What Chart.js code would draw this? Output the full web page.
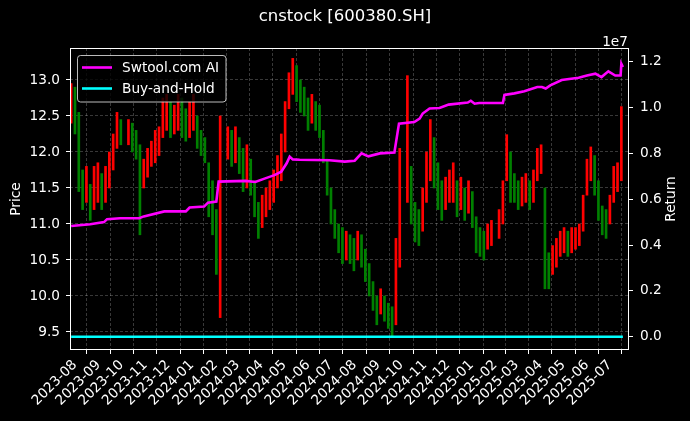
<!DOCTYPE html>
<html lang="en">
<head>
<meta charset="UTF-8">
<title>cnstock [600380.SH]</title>
<script src="https://cdn.jsdelivr.net/npm/chart.js@4.4.1/dist/chart.umd.min.js"></script>
<style>
  html, body { margin: 0; padding: 0; background: #000; }
  #chart { display: block; }
</style>
</head>
<body>
<canvas id="chart" width="690" height="421"></canvas>
<script>
  // tick labels on the date axis (one per month)
  const monthTicks = [
    '2023-08', '2023-09', '2023-10', '2023-11', '2023-12',
    '2024-01', '2024-02', '2024-03', '2024-04', '2024-05', '2024-06',
    '2024-07', '2024-08', '2024-09', '2024-10', '2024-11', '2024-12',
    '2025-01', '2025-02', '2025-03', '2025-04', '2025-05', '2025-06', '2025-07'
  ];
  const priceTicks = [9.5, 10.0, 10.5, 11.0, 11.5, 12.0, 12.5, 13.0];
  const returnTicks = [0.0, 0.2, 0.4, 0.6, 0.8, 1.0, 1.2];

  // price bars: one every 5 calendar days from 2023-07-27, null = market closed
  const barStart = '2023-07-27';
  const barStepDays = 5;
  const barLow = [
    12.40, 12.25, 11.45, 11.20, 11.30, 11.05, 11.20, 11.30, 11.20, 11.30,
    11.50, 11.75, 12.05, 12.10, null, 12.10, 12.00, 11.90, 10.85, 11.50,
    11.65, 11.80, 11.85, 11.95, 12.20, 12.30, 12.20, 12.25, 12.30, 12.20,
    12.15, 12.20, 12.30, 12.05, 11.95, 11.85, 11.10, 10.85, 10.30, 9.70,
    null, 11.90, 11.80, 11.85, 11.70, 11.45, 11.50, 11.40, 11.10, 10.80,
    10.95, 11.10, 11.20, 11.30, 11.50, 11.60, 12.00, 12.60, 12.80, 12.70,
    12.55, 12.50, 12.30, 12.40, 12.30, 12.20, 11.85, 11.40, 11.00, 10.80,
    10.60, 10.45, 10.50, 10.45, 10.35, 10.50, 10.40, 10.20, 10.00, 9.80,
    9.60, 9.75, 9.65, 9.55, 9.43, 9.60, 10.40, null, 11.30, 11.00,
    10.75, 10.70, 10.90, 11.30, 11.60, 11.50, 11.20, 11.05, 11.20, 11.30,
    11.30, 11.10, 11.20, 11.05, 11.15, 10.95, 10.60, 10.55, 10.50, 10.65,
    10.70, null, 10.80, 11.00, 11.60, 11.30, 11.30, 11.20, 11.25, 11.30,
    11.20, 11.30, 11.60, 11.70, 10.10, 10.10, 10.30, 10.40, 10.55, 10.60,
    10.55, 10.60, 10.65, 10.70, 10.90, 11.40, 11.60, 11.40, 11.05, 10.85,
    10.80, 11.00, 11.30, 11.45, 11.60
  ];
  const barHigh = [
    12.95, 12.90, 12.55, 11.75, 11.80, 11.55, 11.80, 11.85, 11.70, 11.80,
    12.00, 12.25, 12.55, 12.45, null, 12.45, 12.40, 12.30, 12.10, 11.90,
    12.05, 12.15, 12.30, 12.35, 12.75, 12.80, 12.70, 12.65, 12.80, 12.75,
    12.60, 12.70, 12.80, 12.50, 12.30, 12.20, 11.85, 11.60, 11.20, 12.50,
    null, 12.35, 12.30, 12.35, 12.20, 12.05, 12.10, 11.90, 11.60, 11.30,
    11.40, 11.50, 11.60, 11.75, 11.95, 12.25, 12.70, 13.10, 13.30, 13.20,
    13.00, 12.90, 12.75, 12.80, 12.70, 12.65, 12.30, 11.90, 11.50, 11.20,
    11.00, 10.95, 10.90, 10.85, 10.80, 10.90, 10.85, 10.65, 10.45, 10.20,
    10.00, 10.10, 10.00, 9.90, 9.85, 10.80, 12.05, null, 13.06, 11.80,
    11.30, 11.20, 11.50, 12.00, 12.45, 12.20, 11.85, 11.60, 11.65, 11.75,
    11.85, 11.60, 11.65, 11.50, 11.60, 11.45, 11.10, 10.95, 10.90, 11.00,
    11.05, null, 11.20, 11.60, 12.24, 12.00, 11.70, 11.60, 11.65, 11.70,
    11.60, 11.75, 12.05, 12.10, 11.50, 10.60, 10.70, 10.80, 10.90, 10.95,
    10.90, 10.95, 10.95, 11.00, 11.40, 11.90, 12.07, 11.95, 11.60, 11.25,
    11.20, 11.40, 11.80, 11.85, 12.63
  ];

  // Swtool.com AI equity curve, right axis in units of 1e7
  const aiDates = [
    '2023-07-27', '2023-08-21', '2023-09-08', '2023-09-12', '2023-09-29',
    '2023-10-24', '2023-10-30', '2023-11-26', '2023-12-24', '2023-12-29',
    '2024-01-17', '2024-01-22', '2024-02-02', '2024-02-05', '2024-03-11',
    '2024-03-24', '2024-04-05', '2024-04-18', '2024-04-27', '2024-05-04',
    '2024-05-08', '2024-05-12', '2024-05-21', '2024-06-29', '2024-07-19',
    '2024-08-01', '2024-08-10', '2024-08-19', '2024-09-03', '2024-09-22',
    '2024-09-28', '2024-10-18', '2024-10-25', '2024-10-29', '2024-11-07',
    '2024-11-20', '2024-12-02', '2024-12-27', '2024-12-31', '2025-01-05',
    '2025-01-11', '2025-02-11', '2025-02-13', '2025-02-26', '2025-03-11',
    '2025-03-28', '2025-04-03', '2025-04-08', '2025-04-14', '2025-04-29',
    '2025-05-21', '2025-06-01', '2025-06-12', '2025-06-20', '2025-06-29',
    '2025-07-08', '2025-07-15', '2025-07-16', '2025-07-18'
  ];
  const aiReturn = [
    0.483, 0.491, 0.500, 0.513, 0.517,
    0.517, 0.525, 0.547, 0.547, 0.564,
    0.568, 0.585, 0.590, 0.677, 0.680,
    0.675, 0.690, 0.705, 0.720, 0.757,
    0.786, 0.774, 0.772, 0.770, 0.764,
    0.768, 0.800, 0.787, 0.800, 0.804,
    0.930, 0.937, 0.952, 0.974, 0.996,
    0.998, 1.013, 1.022, 1.030, 1.017,
    1.020, 1.020, 1.055, 1.062, 1.071,
    1.090, 1.090, 1.083, 1.097, 1.120,
    1.130, 1.140, 1.148, 1.133, 1.158,
    1.140, 1.140, 1.191, 1.177
  ];

  // Buy-and-Hold, flat at this scale
  const bhDates = ['2023-07-27', '2024-07-27', '2025-07-18'];
  const bhReturn = [0.0, 0.0, 0.0];

  const DAY0 = Date.UTC(2023, 7, 1);
  function dayOf(s) {
    const p = s.split('-').map(Number);
    return (Date.UTC(p[0], p[1] - 1, p[2] || 1) - DAY0) / 86400000;
  }

  const monthDays = monthTicks.map(m => dayOf(m));
  const firstBar = dayOf(barStart);

  // bars: red when the price moved up, green when it moved down
  const barPts = [];
  const barColors = [];
  let prevMid = null;
  barLow.forEach((lo, i) => {
    const x = firstBar + i * barStepDays;
    if (lo === null) {
      barPts.push({x: x, y: null});
      barColors.push('red');
      return;
    }
    const mid = (lo + barHigh[i]) / 2;
    barPts.push({x: x, y: [lo, barHigh[i]]});
    barColors.push(prevMid === null || mid >= prevMid ? '#ff0000' : '#008000');
    prevMid = mid;
  });

  const aiPts = aiDates.map((d, i) => ({x: dayOf(d), y: aiReturn[i]}));
  const bhPts = bhDates.map((d, i) => ({x: dayOf(d), y: bhReturn[i]}));

  const tickFont = {family: 'DejaVu Sans', size: 13.7};
  const gridColor = 'rgba(255,255,255,0.28)';

  // spines, legend, right axis label and the 1e7 offset label
  const overlay = {
    id: 'overlay',
    afterDraw(chart) {
      const ctx = chart.ctx;
      const a = chart.chartArea;
      ctx.save();
      ctx.strokeStyle = '#fff';
      ctx.lineWidth = 1;
      ctx.strokeRect(Math.round(a.left) + 0.5, Math.round(a.top) + 0.5,
                     Math.round(a.width) - 1, Math.round(a.height) - 1);

      // legend box
      ctx.beginPath();
      ctx.roundRect(77.5, 55.5, 148.5, 46.5, 3);
      ctx.fillStyle = 'rgba(0,0,0,0.8)';
      ctx.fill();
      ctx.strokeStyle = 'rgba(220,220,220,0.85)';
      ctx.stroke();

      ctx.font = '13.7px "DejaVu Sans"';
      const items = chart.data.datasets.filter(ds => ds.type === 'line');
      items.forEach((ds, k) => {
        const y = 67.5 + k * 21;
        ctx.beginPath();
        ctx.moveTo(82, y);
        ctx.lineTo(112, y);
        ctx.strokeStyle = ds.borderColor;
        ctx.lineWidth = 2.6;
        ctx.stroke();
        ctx.fillStyle = '#fff';
        ctx.textAlign = 'left';
        ctx.textBaseline = 'middle';
        ctx.fillText(ds.label, 122, y + 0.5);
      });

      ctx.fillStyle = '#fff';
      ctx.textAlign = 'right';
      ctx.textBaseline = 'alphabetic';
      ctx.fillText('1e7', 628, 45.5);

      // right axis label reads bottom to top, like the left one
      ctx.translate(671, (a.top + a.bottom) / 2);
      ctx.rotate(-Math.PI / 2);
      ctx.textAlign = 'center';
      ctx.textBaseline = 'middle';
      ctx.fillText('Return', 0, 0);
      ctx.restore();
    }
  };

  new Chart(document.getElementById('chart'), {
    type: 'bar',
    data: {
      datasets: [
        {
          type: 'line', label: 'Swtool.com AI', data: aiPts, yAxisID: 'y1',
          borderColor: '#ff00ff', borderWidth: 2.6, pointRadius: 0, tension: 0
        },
        {
          type: 'line', label: 'Buy-and-Hold', data: bhPts, yAxisID: 'y1',
          borderColor: '#00ffff', borderWidth: 2.6, pointRadius: 0, tension: 0
        },
        {
          type: 'bar', label: 'Price', data: barPts, yAxisID: 'y',
          backgroundColor: barColors, borderWidth: 0, barThickness: 2
        }
      ]
    },
    options: {
      responsive: false,
      animation: false,
      devicePixelRatio: 1,
      layout: {padding: 0},
      plugins: {
        legend: {display: false},
        tooltip: {enabled: false},
        title: {
          display: true,
          text: 'cnstock [600380.SH]',
          color: '#fff',
          font: {family: 'DejaVu Sans', size: 16.5, weight: 'normal'},
          padding: {top: 6.6, bottom: 21.6}
        }
      },
      scales: {
        x: {
          type: 'linear',
          min: -6.5,
          max: 725,
          offset: false,
          afterBuildTicks: s => { s.ticks = monthDays.map(v => ({value: v})); },
          afterFit: s => { s.height = 71; },
          ticks: {
            autoSkip: false, minRotation: 45, maxRotation: 45, padding: 3,
            color: '#fff', font: tickFont,
            callback: (v, i) => monthTicks[i]
          },
          grid: {color: gridColor, lineWidth: 0.8, tickLength: 4, tickColor: '#fff', tickWidth: 1},
          border: {display: false, dash: [3, 2]}
        },
        y: {
          position: 'left',
          min: 9.25,
          max: 13.444,
          afterBuildTicks: s => { s.ticks = priceTicks.map(v => ({value: v})); },
          afterFit: s => { s.width = 70; },
          ticks: {color: '#fff', font: tickFont, padding: 6, callback: v => v.toFixed(1)},
          grid: {color: gridColor, lineWidth: 0.8, tickLength: 4, tickColor: '#fff', tickWidth: 1},
          border: {display: false, dash: [3, 2]},
          title: {
            display: true, text: 'Price', color: '#fff',
            font: {family: 'DejaVu Sans', size: 13.7}, padding: {top: 8.5, bottom: 0}
          }
        },
        y1: {
          position: 'right',
          min: -0.058,
          max: 1.26,
          afterBuildTicks: s => { s.ticks = returnTicks.map(v => ({value: v})); },
          afterFit: s => { s.width = 61; },
          ticks: {color: '#fff', font: tickFont, padding: 7, callback: v => v.toFixed(1)},
          grid: {drawOnChartArea: false, tickLength: 4, tickColor: '#fff', tickWidth: 1},
          border: {display: false}
        }
      }
    },
    plugins: [overlay]
  });
</script>
</body>
</html>
